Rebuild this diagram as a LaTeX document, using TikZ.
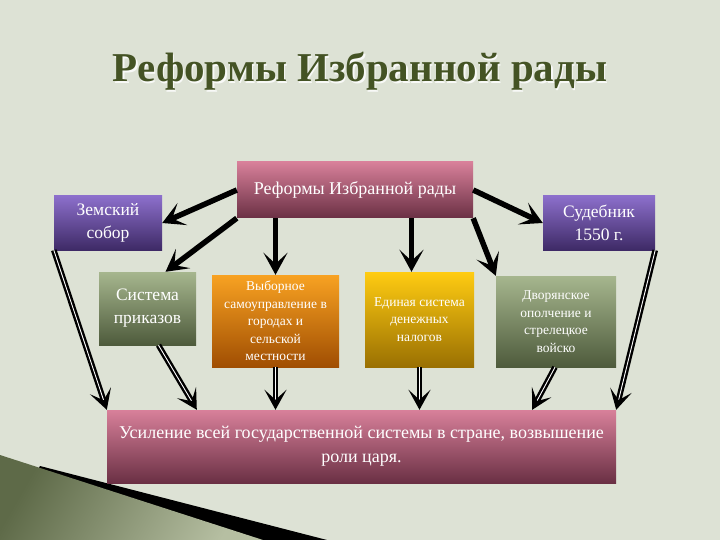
\documentclass[tikz,border=0pt]{standalone}
\usepackage{fontspec}
\setmainfont{Liberation Serif}
\usetikzlibrary{arrows.meta,calc}

\definecolor{bgcol}{HTML}{DDE2D5}
\definecolor{titlecol}{HTML}{445324}
\definecolor{pinktop}{HTML}{D8809A}
\definecolor{pinkbot}{HTML}{6A3044}
\definecolor{purptop}{HTML}{8C6FCB}
\definecolor{purpbot}{HTML}{3E2A66}
\definecolor{greentop}{HTML}{A6B68E}
\definecolor{greenbot}{HTML}{4E5B3C}
\definecolor{orangetop}{HTML}{F8A222}
\definecolor{orangebot}{HTML}{A04E02}
\definecolor{yellowtop}{HTML}{FFCC12}
\definecolor{yellowbot}{HTML}{9A7002}
\definecolor{cornerdark}{HTML}{5E6A48}
\definecolor{cornerlight}{HTML}{B6BFA2}

\tikzset{
    box/.style={rectangle, align=center, text=white, inner sep=2pt},
    pinkbox/.style={box, top color=pinktop, bottom color=pinkbot},
    purplebox/.style={box, top color=purptop, bottom color=purpbot},
    greenbox/.style={box, top color=greentop, bottom color=greenbot},
    orangebox/.style={box, top color=orangetop, bottom color=orangebot},
    yellowbox/.style={box, top color=yellowtop, bottom color=yellowbot},
    bigtext/.style={font=\fontsize{17.5}{23}\selectfont},
    smalltext/.style={font=\fontsize{13.5}{17.5}\selectfont},
    toparrow/.style={line width=5.5pt,
        -{Stealth[length=22pt,width=24pt,inset=11pt]}},
    lowarrow/.style={line width=2.4pt, double=white, double distance=0.9pt,
        -{Stealth[length=20pt,width=22pt,inset=10pt,color=black]}}
}

\begin{document}
\begin{tikzpicture}[x=1pt, y=-1pt]

    % ===== Background =====
    \fill[bgcol] (0,0) rectangle (720,540);
    \useasboundingbox (0,0) rectangle (720,540);

    % ===== Page corner =====
    \fill[black] (40,466) -- (327,540) -- (0,540) -- cycle;
    \shade[left color=cornerdark, right color=cornerlight, shading angle=60]
        (0,455) -- (263,540) -- (0,540) -- cycle;

    % ===== Title =====
    \node[anchor=base, text=white!80!bgcol, font=\fontsize{41}{44}\selectfont\bfseries]
        at (361.5,83.5) {Реформы Избранной рады};
    \node[anchor=base, text=titlecol, font=\fontsize{41}{44}\selectfont\bfseries]
        (title) at (360,82) {Реформы Избранной рады};

    % ===== Top box =====
    \node[pinkbox, minimum width=236pt, minimum height=56pt,
        font=\fontsize{18}{22}\selectfont] (reform) at (355,190) {Реформы Избранной рады};

    % ===== Side boxes =====
    \node[purplebox, bigtext, minimum width=108pt, minimum height=54pt]
        (zemsky) at (108,223) {Земский\\собор};
    \node[purplebox, bigtext, minimum width=112pt, minimum height=54pt]
        (sudeb) at (599,223) {Судебник\\1550 г.};

    % ===== Middle row =====
    \node[greenbox, bigtext, minimum width=97pt, minimum height=73pt]
        (prikaz) at (147.5,308.5) {Система\\приказов};
    \node[orangebox, smalltext, minimum width=127pt, minimum height=92pt]
        (vybor) at (275.5,321) {Выборное\\самоуправление в\\городах и\\сельской\\местности};
    \node[yellowbox, smalltext, minimum width=109pt, minimum height=95pt]
        (edin) at (419.5,319.5) {Единая система\\денежных\\налогов};
    \node[greenbox, smalltext, minimum width=120pt, minimum height=91pt]
        (dvor) at (556,321.5) {Дворянское\\ополчение и\\стрелецкое\\войско};

    % ===== Result box =====
    \node[pinkbox, font=\fontsize{18}{24}\selectfont, minimum width=509pt, minimum height=73pt]
        (result) at (361.5,446.5) {Усиление всей государственной системы в стране, возвышение\\роли царя.};

    % ===== Arrows from the reform =====
    \draw[toparrow] (reform.west) -- (zemsky.east);
    \draw[toparrow] (reform.south west) -- ($(prikaz.north)+(18,0)$);
    \draw[toparrow] (reform.south -| vybor.north) -- (vybor.north);
    \draw[toparrow] ($(reform.south -| edin.north)+(-8,0)$) -- ($(edin.north)+(-8,0)$);
    \draw[toparrow] (reform.south east) -- (dvor.north west);
    \draw[toparrow] (reform.east) -- (sudeb.west);

    % ===== Arrows to the result =====
    \draw[lowarrow] (zemsky.south west) -- (result.north west);
    \draw[lowarrow] ($(prikaz.south)+(11,0)$) -- ($(result.north west)+(90,0)$);
    \draw[lowarrow] (vybor.south) -- (vybor.south |- result.north);
    \draw[lowarrow] (edin.south) -- (edin.south |- result.north);
    \draw[lowarrow] ($(dvor.south)+(-1,0)$) -- ($(result.north east)+(-84,0)$);
    \draw[lowarrow] (sudeb.south east) -- (result.north east);

\end{tikzpicture}
\end{document}
